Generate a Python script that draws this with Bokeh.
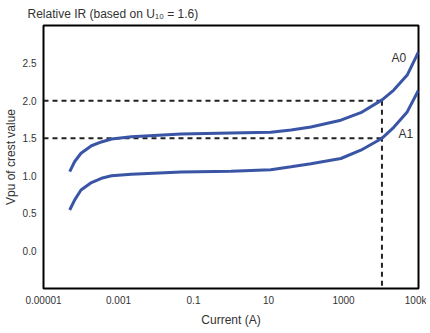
from bokeh.plotting import figure
from bokeh.models import FixedTicker, Range1d, Label
from bokeh.embed import file_html
from bokeh.resources import INLINE

# --- data ---
current = [5e-5, 6.8e-5, 1e-4, 1.9e-4, 3.5e-4, 6.5e-4, 2.2e-3, 0.047, 1, 11.5, 40, 135, 850, 2900, 10700, 21900, 50000, 100000]
a0 = [1.055, 1.19, 1.30, 1.40, 1.45, 1.49, 1.52, 1.556, 1.57, 1.58, 1.61, 1.65, 1.74, 1.84, 2.01, 2.14, 2.34, 2.65]
a1 = [0.545, 0.68, 0.81, 0.91, 0.967, 1.0, 1.02, 1.05, 1.06, 1.08, 1.12, 1.16, 1.23, 1.34, 1.50, 1.645, 1.85, 2.14]

ref_current = 10600
ref_levels = [2.0, 1.5]

x_ticks = [1e-5, 1e-3, 1e-1, 10, 1000, 1e5]
x_tick_labels = ["0.00001", "0.001", "0.1", "10", "1000", "100k"]
y_ticks = [0.0, 0.5, 1.0, 1.5, 2.0, 2.5]

series_labels = ["A0", "A1"]
label_x = [30000, 46000]
label_y = [2.57, 1.55]

FONT = "Liberation Sans"
TEXT = "#333333"
BLUE = "#3a55a5"

p = figure(width=426, height=329, x_axis_type="log",
           x_range=Range1d(1e-5, 1e5), y_range=Range1d(-0.5, 3.0),
           output_backend="svg", toolbar_location=None,
           min_border_left=42, min_border_right=8, min_border_top=25, min_border_bottom=41,
           title="Relative IR (based on U\u2081\u2080 = 1.6)")

p.title.text_font = FONT
p.title.text_font_size = "12px"
p.title.text_font_style = "normal"
p.title.text_color = TEXT
p.title.align = "left"
p.title.offset = -16
p.title.standoff = 9

p.grid.visible = False
p.outline_line_color = "black"
p.outline_line_width = 2
p.outline_line_alpha = 1

for ax in (p.xaxis, p.yaxis):
    ax.axis_line_color = None
    ax.major_tick_line_color = None
    ax.minor_tick_line_color = None
    ax.major_tick_in = 0
    ax.major_tick_out = 0
    ax.minor_tick_in = 0
    ax.minor_tick_out = 0
    ax.major_label_text_font = FONT
    ax.major_label_text_font_size = "10px"
    ax.major_label_text_color = TEXT
    ax.axis_label_text_font = FONT
    ax.axis_label_text_font_size = "12px"
    ax.axis_label_text_font_style = "normal"
    ax.axis_label_text_color = TEXT

p.xaxis.ticker = FixedTicker(ticks=x_ticks)
p.xaxis.major_label_overrides = {t: l for t, l in zip(x_ticks, x_tick_labels)}
p.xaxis.axis_label = "Current (A)"
p.xaxis.major_label_standoff = 6
p.xaxis.axis_label_standoff = 4

p.yaxis.ticker = FixedTicker(ticks=y_ticks)
p.yaxis.major_label_overrides = {t: f"{t:.1f}" for t in y_ticks}
p.yaxis.axis_label = "Vpu of crest value"
p.yaxis.major_label_standoff = 7
p.yaxis.axis_label_standoff = 2

# dashed reference lines
for lvl in ref_levels:
    p.line([1e-5, ref_current], [lvl, lvl], line_color="#222222", line_width=2, line_dash="5 4")
p.line([ref_current, ref_current], [max(ref_levels), -0.5], line_color="#222222", line_width=2, line_dash="5 4")

p.line(current, a0, line_color=BLUE, line_width=3)
p.line(current, a1, line_color=BLUE, line_width=3)

for t, x, y in zip(series_labels, label_x, label_y):
    p.add_layout(Label(x=x, y=y, text=t, text_font=FONT, text_font_size="12px",
                       text_color=TEXT, text_align="center", text_baseline="middle"))

open("out.html", "w").write(file_html(p, INLINE))
